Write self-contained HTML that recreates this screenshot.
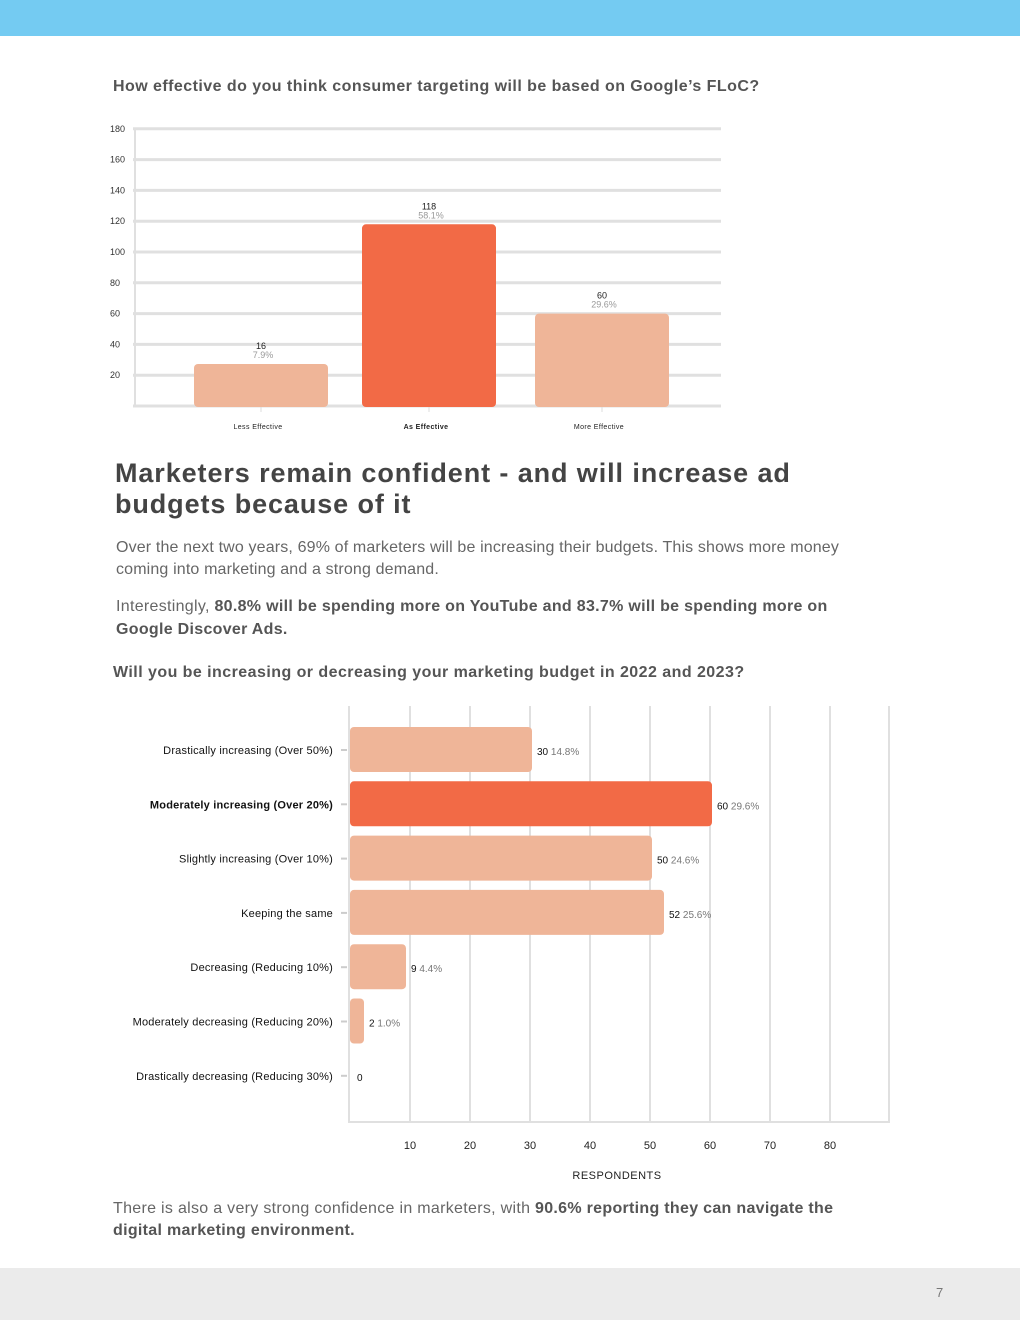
<!DOCTYPE html>
<html><head><meta charset="utf-8"><style>
body{margin:0;width:1020px;height:1320px;position:relative;background:#fff;font-family:"Liberation Sans",sans-serif;overflow:hidden;color:#555}
.abs{position:absolute}
.q{font-weight:bold;font-size:16px;color:#555;letter-spacing:0.45px}
p{margin:0}
</style></head><body>
<div class="abs" style="left:0;top:0;width:1020px;height:36px;background:#74CBF2"></div>
<div class="abs q" style="left:113px;top:78px">How effective do you think consumer targeting will be based on Google’s FLoC?</div>
<svg class="abs" id="c1" style="left:0;top:110px" width="1020" height="330"></svg>
<div class="abs" style="left:115px;top:458px;font-size:27px;font-weight:bold;color:#444;line-height:31px;width:720px;letter-spacing:0.9px">Marketers remain confident - and will increase ad budgets because of it</div>
<p class="abs" style="left:116px;top:537px;font-size:16px;line-height:22px;width:770px;color:#666;letter-spacing:0.15px">Over the next two years, 69% of marketers will be increasing their budgets. This shows more money coming into marketing and a strong demand.</p>
<p class="abs" style="left:116px;top:595px;font-size:16px;line-height:23px;width:760px;color:#666;letter-spacing:0.3px">Interestingly, <b style="color:#555">80.8% will be spending more on YouTube and 83.7% will be spending more on Google Discover Ads.</b></p>
<div class="abs q" style="left:113px;top:664px">Will you be increasing or decreasing your marketing budget in 2022 and 2023?</div>
<svg class="abs" id="c2" style="left:0;top:690px" width="1020" height="500"></svg>
<p class="abs" style="left:113px;top:1198px;font-size:16px;line-height:22px;width:770px;color:#666;letter-spacing:0.3px">There is also a very strong confidence in marketers, with <b style="color:#555">90.6% reporting they can navigate the digital marketing environment.</b></p>
<div class="abs" style="left:0;top:1268px;width:1020px;height:52px;background:#ebebeb"></div>
<div class="abs" style="left:936px;top:1285px;font-size:13px;color:#777">7</div>
<script>
const cats1=["Less Effective","As Effective","More Effective"];
const vals1=[16,118,60];
const pcts1=["7.9%","58.1%","29.6%"];
const ticks1=[20,40,60,80,100,120,140,160,180];
const cats2=["Drastically increasing (Over 50%)","Moderately increasing (Over 20%)","Slightly increasing (Over 10%)","Keeping the same","Decreasing (Reducing 10%)","Moderately decreasing (Reducing 20%)","Drastically decreasing (Reducing 30%)"];
const vals2=[30,60,50,52,9,2,0];
const pcts2=["14.8%","29.6%","24.6%","25.6%","4.4%","1.0%",""];
const ticks2=[10,20,30,40,50,60,70,80];
const NS="http://www.w3.org/2000/svg";
function mk(svg,tag,a,txt){const e=document.createElementNS(NS,tag);for(const k in a)e.setAttribute(k,a[k]);if(txt!==undefined)e.textContent=txt;svg.appendChild(e);return e;}
// chart1
const s1=document.getElementById('c1');
const y1=v=>296-v*1.54;
for(const t of ticks1){const l=mk(s1,'line',{x1:133,x2:721,y1:y1(t),y2:y1(t),stroke:'#e0e0e0','stroke-width':3});


const tx=mk(s1,'text',{x:110,y:y1(t)+3,'font-size':9,fill:'#333'},t);

}
mk(s1,'line',{x1:135,x2:135,y1:18,y2:296,stroke:'#e0e0e0','stroke-width':2});
mk(s1,'line',{x1:133,x2:721,y1:296,y2:296,stroke:'#e0e0e0','stroke-width':3});
const cx1=[261,429,602];
cats1.forEach((c,i)=>{const top=Math.min(y1(vals1[i]),296-42);
const r=mk(s1,'rect',{x:cx1[i]-67,y:top,width:134,height:297-top,rx:4,fill:i==1?'#F26A46':'#EFB598'});


mk(s1,'line',{x1:cx1[i],x2:cx1[i],y1:297,y2:302,stroke:'#ddd'});
const a=mk(s1,'text',{x:cx1[i],y:top-15,'font-size':9,'text-anchor':'middle',fill:'#222'},vals1[i]);

const b=mk(s1,'text',{x:cx1[i]+2,y:top-6,'font-size':9,'text-anchor':'middle',fill:'#999'},pcts1[i]);

const x=mk(s1,'text',{x:cx1[i]-3,y:319,'font-size':7,'text-anchor':'middle',fill:'#222','font-weight':i==1?'bold':'normal','letter-spacing':'0.4'},c);
});
// chart2
const s2=document.getElementById('c2');
const x2=v=>350+v*6;
for(const t of ticks2){const l=mk(s2,'line',{x1:x2(t),x2:x2(t),y1:16,y2:432,stroke:'#e0e0e0','stroke-width':2});

const tx=mk(s2,'text',{x:x2(t),y:459,'font-size':11,'text-anchor':'middle',fill:'#222'},t);
}
mk(s2,'line',{x1:349,x2:349,y1:16,y2:432,stroke:'#e0e0e0','stroke-width':2});
mk(s2,'line',{x1:889,x2:889,y1:16,y2:432,stroke:'#e0e0e0','stroke-width':2});
mk(s2,'line',{x1:348,x2:890,y1:432,y2:432,stroke:'#e0e0e0','stroke-width':2});
const xt=mk(s2,'text',{x:617,y:489,'font-size':11,'text-anchor':'middle',fill:'#222','letter-spacing':'0.5'},'RESPONDENTS');

cats2.forEach((c,i)=>{const cy=60+i*54.3;
if(vals2[i]>0){const r=mk(s2,'rect',{x:350,y:cy-23,width:x2(vals2[i])-350+2,height:45,rx:4,fill:i==1?'#F26A46':'#EFB598'});
}
mk(s2,'line',{x1:341,x2:347,y1:cy,y2:cy,stroke:'#ccc','stroke-width':2});
const l=mk(s2,'text',{x:333,y:cy+4,'font-size':11,'text-anchor':'end',fill:'#111','font-weight':i==1?'bold':'normal','letter-spacing':'0.2'},c);

const v=mk(s2,'text',{x:x2(vals2[i])+7,y:cy+5,'font-size':10,fill:'#111'});

const t1=document.createElementNS(NS,'tspan');t1.textContent=vals2[i]+' ';v.appendChild(t1);
const t2=document.createElementNS(NS,'tspan');t2.setAttribute('fill','#777');t2.textContent=pcts2[i];v.appendChild(t2);});
</script>
</body></html>
